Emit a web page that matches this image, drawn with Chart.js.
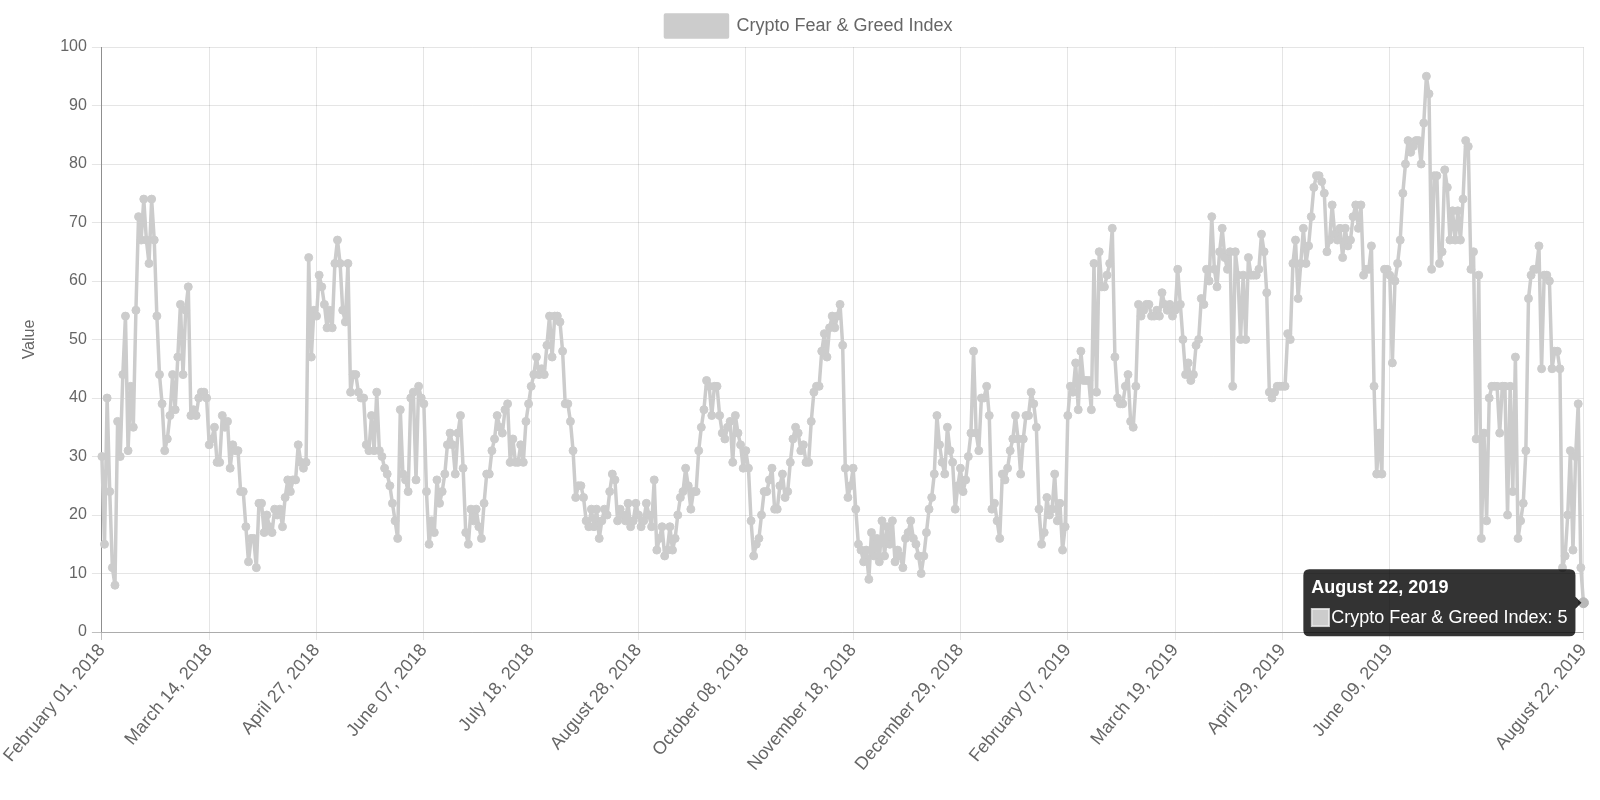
<!DOCTYPE html>
<html>
<head>
<meta charset="utf-8">
<script src="https://cdn.jsdelivr.net/npm/chart.js@4.4.1/dist/chart.umd.min.js"></script>
<style>
  html, body { margin: 0; padding: 0; background: #fff; }
  #wrap { width: 1600px; height: 800px; }
</style>
</head>
<body>
<div id="wrap"><canvas id="fgiChart"></canvas></div>
<script>
// daily index values, Feb 01 2018 .. Aug 22 2019
const fgi = [
  30,15,40,24,11,8,36,30,44,54, 31,42,35,55,71,67,74,67,63,74, 67,54,44,39,31,33,37,44,38,47, 56,44,55,59,37,38,37,40,41,41, 40,
  32,33,35,29,29,37,35,36,28,32, 31,31,24,24,18,12,16,16,11,22, 22,17,20,18,17,21,20,21,18,23, 26,24,26,26,32,29,28,29,64,47, 55,
  54,61,59,56,52,55,52,63,67,63, 55,53,63,41,44,44,41,40,40,32, 31,37,31,41,31,30,28,27,25,22, 19,16,38,27,26,24,40,41,26,42, 40,
  39,24,15,19,17,26,22,24,27,32, 34,32,27,34,37,28,17,15,21,19, 21,18,16,22,27,27,31,33,37,35, 34,38,39,29,33,29,29,32,29,36, 39,
  42,44,47,44,45,44,49,54,47,54, 54,53,48,39,39,36,31,23,25,25, 23,19,18,21,18,21,16,19,21,20, 24,27,26,19,21,20,19,22,18,19, 22,
  20,18,19,22,20,18,26,14,16,18, 13,14,18,14,16,20,23,24,28,25, 21,24,24,31,35,38,43,42,37,42, 42,37,34,33,35,36,29,37,34,32, 28,
  31,28,19,13,15,16,20,24,24,26, 28,21,21,25,27,23,24,29,33,35, 34,31,32,29,29,36,41,42,42,48, 51,47,52,54,52,54,56,49,28,23, 25,
  28,21,15,14,12,14,9,17,13,16, 12,19,13,18,15,19,12,14,13,11, 16,17,19,16,15,13,10,13,17,21, 23,27,37,32,29,27,35,31,29,21, 25,
  28,24,26,30,34,48,34,31,40,40, 42,37,21,22,19,16,27,26,28,31, 33,37,33,27,33,37,37,41,39,35, 21,15,17,23,20,21,27,19,22,14, 18,
  37,42,41,46,38,48,43,43,43,38, 63,41,65,59,59,61,63,69,47,40, 39,39,42,44,36,35,42,56,54,55, 56,56,54,54,55,54,58,56,55,56, 54,
  55,62,56,50,44,46,43,44,49,50, 57,56,62,60,71,62,59,65,69,64, 62,65,42,65,61,50,61,50,64,61, 61,61,62,68,65,58,41,40,41,42, 42,
  42,42,51,50,63,67,57,63,69,63, 66,71,76,78,78,77,75,65,67,73, 68,67,69,64,69,66,67,71,73,69, 73,61,62,62,66,42,27,34,27,62, 62,
  61,46,60,63,67,75,80,84,82,83, 84,84,80,87,95,92,62,78,78,63, 65,79,76,67,72,67,72,67,74,84, 83,62,65,33,61,16,34,19,40,42, 42,
  42,34,42,42,20,42,24,47,16,19, 22,31,57,61,62,62,66,45,61,61, 60,45,48,48,45,11,13,20,31,14, 30,39,11,5
];

// calendar of the series: days missing from the feed, and days that appear twice
const firstDay = '2018-02-01';
const skippedDays = ['2018-04-14', '2018-04-15', '2018-04-16'];
const repeatedDays = ['2019-01-19', '2019-03-01'];
const monthNames = ['January', 'February', 'March', 'April', 'May', 'June', 'July',
  'August', 'September', 'October', 'November', 'December'];
const yTicks = [0, 10, 20, 30, 40, 50, 60, 70, 80, 90, 100];
const labelEvery = 41;

function formatDay(d) {
  const dd = String(d.getUTCDate()).padStart(2, '0');
  return `${monthNames[d.getUTCMonth()]} ${dd}, ${d.getUTCFullYear()}`;
}

// build the date labels
const labels = [];
let day = new Date(firstDay + 'T00:00:00Z');
while (labels.length < fgi.length) {
  const iso = day.toISOString().slice(0, 10);
  if (!skippedDays.includes(iso)) {
    labels.push(formatDay(day));
    if (repeatedDays.includes(iso)) labels.push(formatDay(day));
  }
  day = new Date(day.getTime() + 86400000);
}

Chart.defaults.font.family = "'Helvetica Neue', Helvetica, Arial, 'Liberation Sans', sans-serif";
Chart.defaults.font.size = 16;
Chart.defaults.color = '#666';

const grey = '#cccccc';
const last = fgi.length - 1;

const chart = new Chart(document.getElementById('fgiChart'), {
  type: 'line',
  data: {
    labels: labels,
    datasets: [{
      label: 'Crypto Fear & Greed Index',
      data: fgi,
      borderColor: grey,
      backgroundColor: grey,
      borderWidth: 3.5,
      borderJoinStyle: 'round',
      pointRadius: 4,
      pointBorderWidth: 1,
      pointHoverRadius: 5,
      fill: false,
      tension: 0
    }]
  },
  options: {
    responsive: true,
    maintainAspectRatio: false,
    animation: false,
    layout: { padding: { left: 18, right: 0, top: 5, bottom: 25 } },
    plugins: {
      legend: {
        position: 'top',
        labels: { boxWidth: 62, boxHeight: 22, padding: 10, font: { size: 18 } }
      },
      tooltip: {
        backgroundColor: 'rgba(0,0,0,0.8)',
        titleFont: { size: 18, weight: 'bold' },
        bodyFont: { size: 18 },
        padding: 8,
        caretSize: 6,
        cornerRadius: 6,
        titleMarginBottom: 8,
        displayColors: true
      }
    },
    scales: {
      x: {
        grid: {
          color: (ctx) => ctx.index === 0 ? 'rgba(0,0,0,0.25)' : 'rgba(0,0,0,0.1)',
          tickLength: 8
        },
        ticks: {
          autoSkip: false,
          maxRotation: 50,
          minRotation: 50,
          padding: 0,
          font: { size: 18 },
          callback: function (value, index) {
            if (index === last) return this.getLabelForValue(value);
            if (index % labelEvery === 0 && index + labelEvery < fgi.length) return this.getLabelForValue(value);
            return null;
          }
        }
      },
      y: {
        min: yTicks[0],
        max: yTicks[yTicks.length - 1],
        afterBuildTicks: (axis) => { axis.ticks = yTicks.map(v => ({ value: v })); },
        grid: {
          color: (ctx) => ctx.tick && ctx.tick.value === 0 ? 'rgba(0,0,0,0.25)' : 'rgba(0,0,0,0.1)',
          tickLength: 10
        },
        ticks: { padding: 5 },
        border: { color: 'rgba(0,0,0,0.25)' },
        title: { display: true, text: 'Value', font: { size: 16 }, padding: { top: 2, bottom: 16 } }
      }
    }
  }
});

// show the tooltip on the last day, as in the picture
const lastPoint = chart.getDatasetMeta(0).data[last];
chart.setActiveElements([{ datasetIndex: 0, index: last }]);
chart.tooltip.setActiveElements([{ datasetIndex: 0, index: last }], { x: lastPoint.x, y: lastPoint.y });
chart.update();
</script>
</body>
</html>
